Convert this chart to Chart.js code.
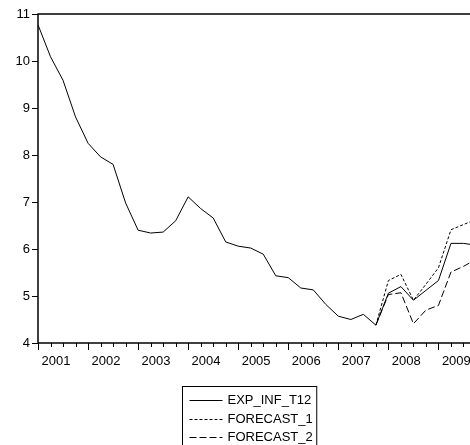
<!DOCTYPE html>
<html>
<head>
<meta charset="utf-8">
<script src="https://cdn.jsdelivr.net/npm/chart.js@4/dist/chart.umd.min.js"></script>
<style>
  html, body { margin: 0; padding: 0; background: #fff; overflow: hidden; }
  #wrap { width: 470px; height: 445px; overflow: hidden; position: relative; }
  canvas { display: block; }
</style>
</head>
<body>
<div id="wrap"><canvas id="c" width="490" height="445"></canvas></div>
<script>
// Quarterly series, 2001Q1 .. 2009Q4
const years = ['2001', '2002', '2003', '2004', '2005', '2006', '2007', '2008', '2009'];
const quarters = years.flatMap(y => [y + 'Q1', y + 'Q2', y + 'Q3', y + 'Q4']);
const yTicks = [4, 5, 6, 7, 8, 9, 10, 11];

const expInfT12 = [
  10.77, 10.09, 9.59, 8.81,
  8.25, 7.96, 7.80, 6.98,
  6.40, 6.34, 6.36, 6.60,
  7.11, 6.86, 6.66, 6.15,
  6.06, 6.02, 5.89, 5.43,
  5.39, 5.17, 5.13, 4.82,
  4.57, 4.50, 4.61, 4.38,
  5.06, 5.20, 4.91, 5.12,
  5.33, 6.12, 6.12, 6.08
];
const forecast1 = [
  null, null, null, null, null, null, null, null, null,
  null, null, null, null, null, null, null, null, null,
  null, null, null, null, null, null, null, null, null,
  4.38, 5.33, 5.46, 4.91, 5.25, 5.60, 6.41, 6.52, 6.63
];
const forecast2 = [
  null, null, null, null, null, null, null, null, null,
  null, null, null, null, null, null, null, null, null,
  null, null, null, null, null, null, null, null, null,
  4.38, 5.03, 5.07, 4.41, 4.70, 4.80, 5.51, 5.63, 5.78
];

const seriesNames = ['EXP_INF_T12', 'FORECAST_1', 'FORECAST_2'];

const toPoints = arr => arr.map((v, i) => ({ x: i, y: v }));

const FONT = '"Liberation Sans", Arial, sans-serif';

// Axes, frame and legend drawn in the classic boxed style
const framePlugin = {
  id: 'frame',
  afterDraw(chart) {
    const { ctx, chartArea: a, scales } = chart;
    const xs = scales.x, ys = scales.y;
    ctx.save();
    ctx.strokeStyle = '#000';
    ctx.fillStyle = '#000';

    // frame
    ctx.lineWidth = 1.5;
    ctx.strokeRect(a.left, a.top, a.right - a.left, a.bottom - a.top);

    // y ticks and labels
    ctx.lineWidth = 1;
    ctx.font = '13px ' + FONT;
    ctx.textAlign = 'right';
    ctx.textBaseline = 'middle';
    yTicks.forEach(v => {
      const y = Math.round(ys.getPixelForValue(v)) + 0.5;
      ctx.beginPath();
      ctx.moveTo(a.left - 6, y);
      ctx.lineTo(a.left, y);
      ctx.stroke();
      ctx.fillText(String(v), a.left - 8, y);
    });

    // x ticks: long at each year start, short at each quarter
    quarters.forEach((q, i) => {
      const x = Math.round(xs.getPixelForValue(i)) + 0.5;
      const len = (i % 4 === 0) ? 7 : 4;
      ctx.beginPath();
      ctx.moveTo(x, a.bottom);
      ctx.lineTo(x, a.bottom + len);
      ctx.stroke();
    });

    // year labels
    ctx.font = '13px ' + FONT;
    ctx.textAlign = 'center';
    ctx.textBaseline = 'middle';
    years.forEach((y, k) => {
      const x = xs.getPixelForValue(k * 4 + 1.43);
      ctx.fillText(y, x, a.bottom + 18);
    });

    // legend box
    ctx.font = '13px ' + FONT;
    ctx.textAlign = 'left';
    const lx = 182.5, ly = 386.5;
    let maxW = 0;
    chart.data.datasets.forEach(ds => { maxW = Math.max(maxW, ctx.measureText(ds.label).width); });
    ctx.lineWidth = 1;
    ctx.strokeRect(lx, ly, 45 + maxW + 4, 80);
    chart.data.datasets.forEach((ds, i) => {
      const y = Math.round(400 + i * 18.5) + 0.5;
      ctx.setLineDash(ds.borderDash || []);
      ctx.beginPath();
      ctx.moveTo(lx + 7, y);
      ctx.lineTo(lx + 40, y);
      ctx.stroke();
      ctx.setLineDash([]);
      ctx.fillText(ds.label, lx + 45, y);
    });
    ctx.restore();
  }
};

new Chart(document.getElementById('c'), {
  type: 'line',
  data: {
    labels: quarters,
    datasets: [
      { label: seriesNames[0], data: toPoints(expInfT12), borderColor: '#000', borderWidth: 1, pointRadius: 0, tension: 0 },
      { label: seriesNames[1], data: toPoints(forecast1), borderColor: '#000', borderWidth: 1, borderDash: [3, 2], pointRadius: 0, tension: 0 },
      { label: seriesNames[2], data: toPoints(forecast2), borderColor: '#000', borderWidth: 1, borderDash: [7, 3], pointRadius: 0, tension: 0 }
    ]
  },
  options: {
    responsive: false,
    animation: false,
    devicePixelRatio: 1,
    layout: { padding: { left: 38, top: 14, right: 14, bottom: 102 } },
    plugins: { legend: { display: false }, tooltip: { enabled: false } },
    scales: {
      x: { type: 'linear', min: 0, max: 35, display: false },
      y: { min: 4, max: 11, display: false }
    }
  },
  plugins: [framePlugin]
});
</script>
</body>
</html>
